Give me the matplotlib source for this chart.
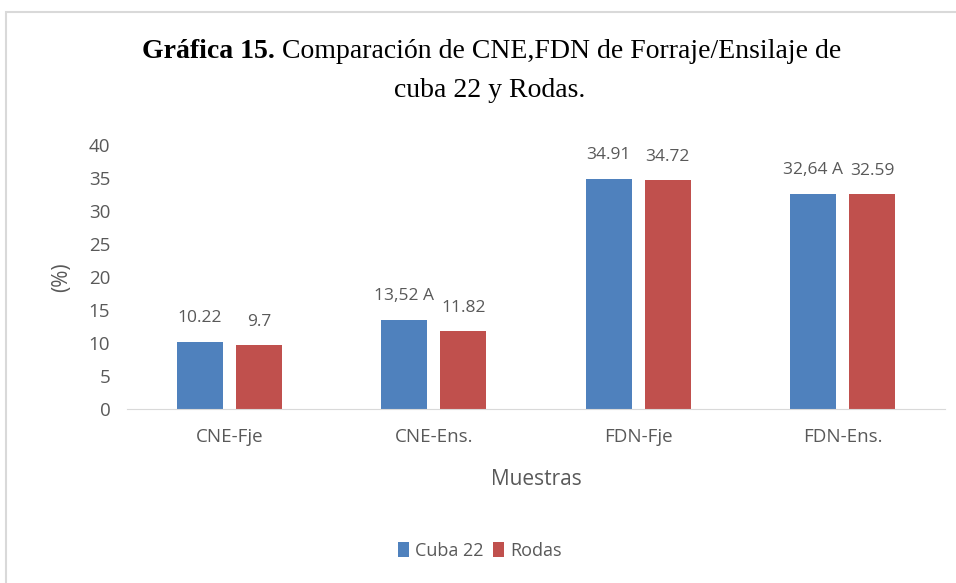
import numpy as np
import matplotlib.pyplot as plt
from matplotlib.patches import Rectangle

categorias = ['CNE-Fje', 'CNE-Ens.', 'FDN-Fje', 'FDN-Ens.']
cuba22 = [10.22, 13.52, 34.91, 32.64]
rodas = [9.7, 11.82, 34.72, 32.59]
etiquetas_cuba22 = ['10.22', '13,52 A', '34.91', '32,64 A']
etiquetas_rodas = ['9.7', '11.82', '34.72', '32.59']

azul = '#4F81BD'
rojo = '#C0504D'
gris = '#595959'
fuente = 'Open Sans'

fig = plt.figure(figsize=(9.56, 5.83), dpi=100)
ax = fig.add_axes([0.1328, 0.2985, 0.8557, 0.4528])

# marco del grafico
fig.patches.append(Rectangle((6 / 956, -0.05), 1.1, 1 - 12 / 583 + 0.05,
                             transform=fig.transFigure, fill=False,
                             edgecolor='#d9d9d9', linewidth=1.5))

x = np.arange(len(categorias))
ancho = 0.225
sep = 0.032
b1 = ax.bar(x - sep - ancho / 2, cuba22, ancho, color=azul, label='Cuba 22')
b2 = ax.bar(x + sep + ancho / 2, rodas, ancho, color=rojo, label='Rodas')

for barra, txt in zip(b1, etiquetas_cuba22):
    ax.annotate(txt, (barra.get_x() + barra.get_width() / 2, barra.get_height()),
                xytext=(0, 11), textcoords='offset points', ha='center', va='bottom',
                fontsize=12.5, color=gris, family=fuente)
for barra, txt in zip(b2, etiquetas_rodas):
    ax.annotate(txt, (barra.get_x() + barra.get_width() / 2, barra.get_height()),
                xytext=(0, 11), textcoords='offset points', ha='center', va='bottom',
                fontsize=12.5, color=gris, family=fuente)

ax.set_xlim(-0.5, len(categorias) - 0.5)
ax.set_ylim(0, 40)
ax.set_yticks(range(0, 41, 5))
ax.set_xticks(x)
ax.set_xticklabels(categorias)
for lbl in ax.get_xticklabels() + ax.get_yticklabels():
    lbl.set_family(fuente)
    lbl.set_fontsize(13.5)
    lbl.set_color(gris)
ax.tick_params(axis='x', length=0, pad=14)
ax.tick_params(axis='y', length=0, pad=12)
for lado in ['top', 'right', 'left']:
    ax.spines[lado].set_visible(False)
ax.spines['bottom'].set_color('#d9d9d9')

ax.set_ylabel('(%)', family=fuente, fontsize=15, color=gris, labelpad=12)
ax.set_xlabel('Muestras', family=fuente, fontsize=15, color=gris, labelpad=16)

ax.legend(loc='center', bbox_to_anchor=(480 / 956, 1 - 551 / 583),
          bbox_transform=fig.transFigure, ncol=2, frameon=False,
          prop={'family': fuente, 'size': 13}, handlelength=0.6,
          handleheight=0.9, columnspacing=0.5, handletextpad=0.35,
          labelcolor=gris)

# titulo con parte en negrita
fig.canvas.draw()
r = fig.canvas.get_renderer()
serif = 'Liberation Serif'
t1 = fig.text(0, 1 - 52 / 583, 'Gráfica 15.', family=serif, weight='bold',
              fontsize=20, va='center')
t2 = fig.text(0, 1 - 52 / 583, ' Comparación de CNE,FDN de Forraje/Ensilaje de',
              family=serif, fontsize=20, va='center')
w1 = t1.get_window_extent(r).width / 956
w2 = t2.get_window_extent(r).width / 956
x0 = 492 / 956 - (w1 + w2) / 2
t1.set_x(x0)
t2.set_x(x0 + w1)
fig.text(490 / 956, 1 - 91 / 583, 'cuba 22 y Rodas.', family=serif,
         fontsize=20, ha='center', va='center')

fig.savefig('out.png', dpi=100)
